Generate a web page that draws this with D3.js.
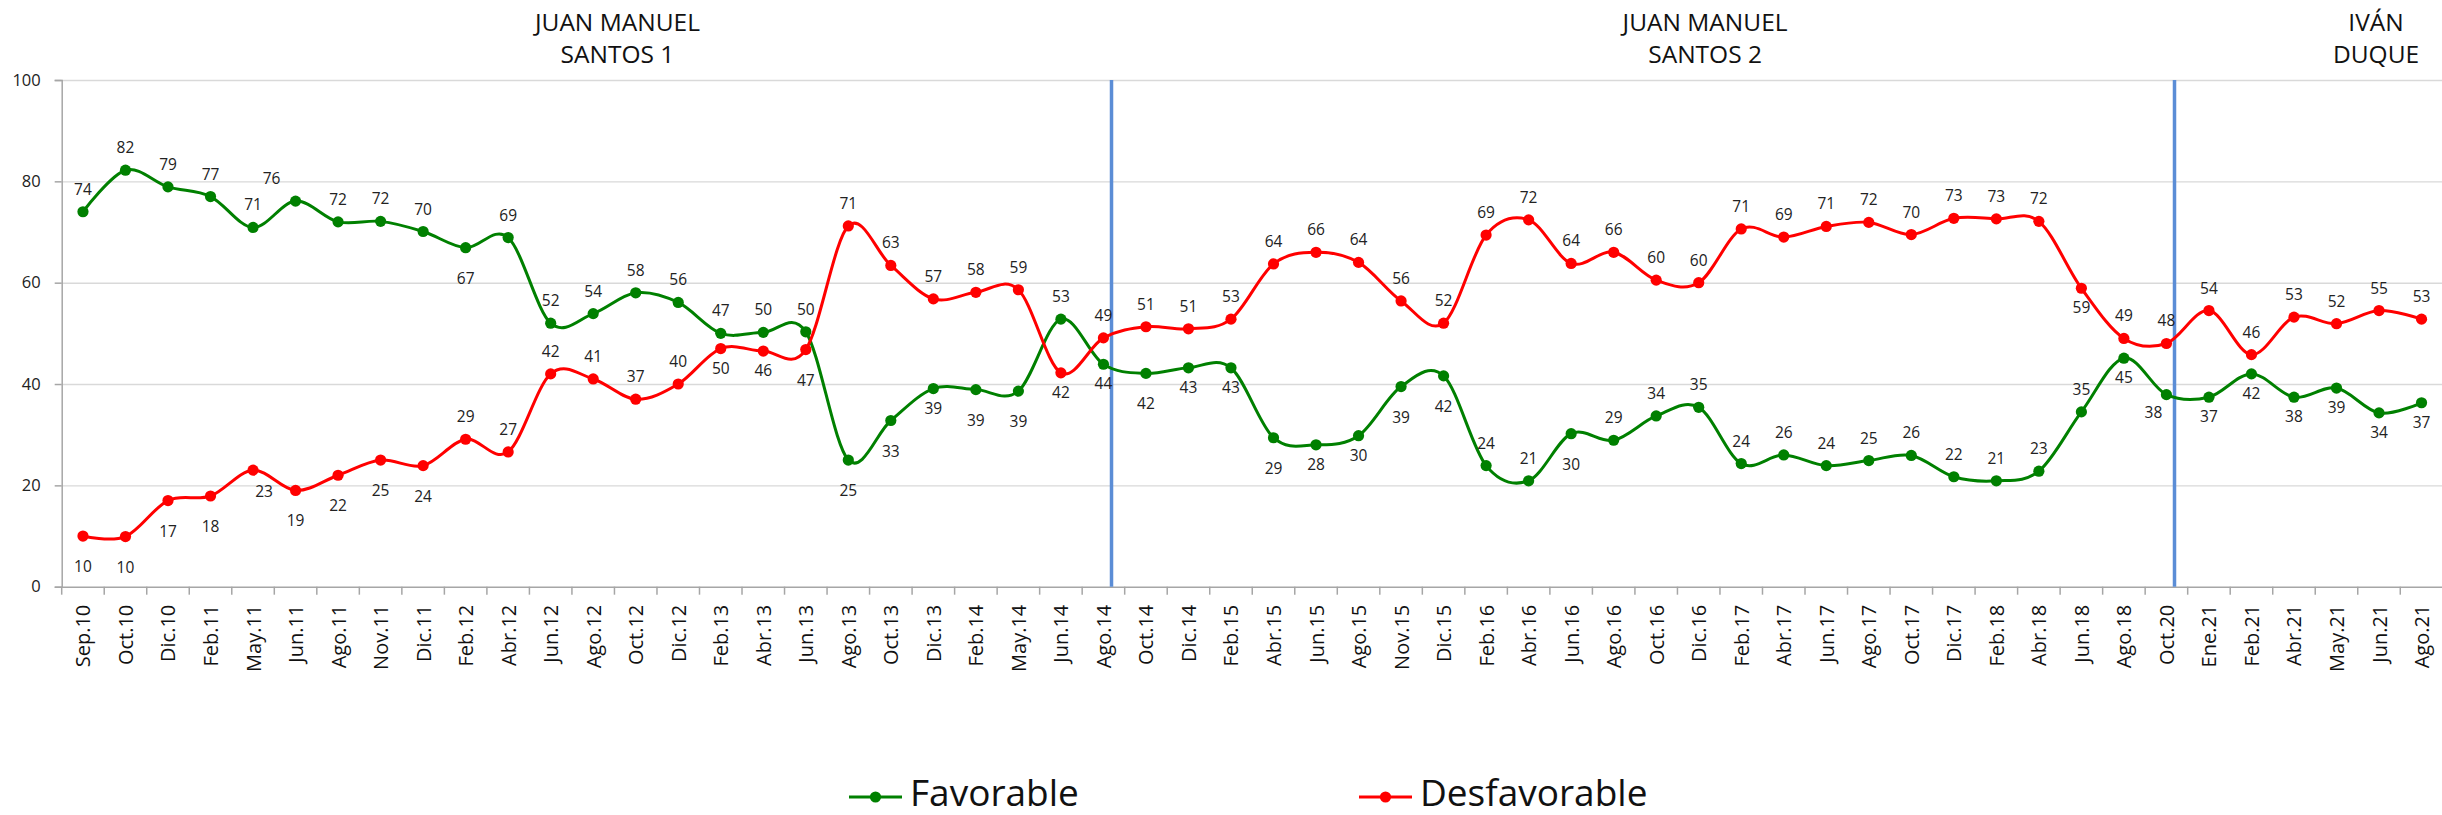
<!DOCTYPE html>
<html><head><meta charset="utf-8">
<script src="https://cdn.jsdelivr.net/npm/d3@7"></script>
<style>body{margin:0;background:#fff;} svg{display:block;}</style>
</head><body>
<svg id="chart" width="2442" height="815"></svg>
<script>
const categories = ["Sep.10","Oct.10","Dic.10","Feb.11","May.11","Jun.11","Ago.11","Nov.11","Dic.11","Feb.12","Abr.12","Jun.12","Ago.12","Oct.12","Dic.12","Feb.13","Abr.13","Jun.13","Ago.13","Oct.13","Dic.13","Feb.14","May.14","Jun.14","Ago.14","Oct.14","Dic.14","Feb.15","Abr.15","Jun.15","Ago.15","Nov.15","Dic.15","Feb.16","Abr.16","Jun.16","Ago.16","Oct.16","Dic.16","Feb.17","Abr.17","Jun.17","Ago.17","Oct.17","Dic.17","Feb.18","Abr.18","Jun.18","Ago.18","Oct.20","Ene.21","Feb.21","Abr.21","May.21","Jun.21","Ago.21"];
const favorable = [74.0,82.2,78.9,77.0,70.9,76.1,72.0,72.1,70.1,66.9,68.9,52.0,53.9,58.0,56.1,50.0,50.2,50.3,25.0,32.8,39.1,38.9,38.6,52.8,43.9,42.1,43.2,43.2,29.4,28.0,29.8,39.5,41.6,23.9,20.9,30.2,28.9,33.7,35.4,24.3,26.0,23.9,24.9,25.9,21.7,20.9,22.8,34.5,45.1,37.9,37.4,42.0,37.4,39.2,34.3,36.3];
const desfavorable = [10.0,9.9,17.0,17.9,23.0,19.0,22.0,25.0,23.9,29.1,26.6,42.0,41.0,37.0,40.0,47.0,46.5,46.8,71.2,63.4,56.8,58.1,58.6,42.2,49.1,51.3,50.9,52.8,63.7,66.0,64.0,56.4,52.0,69.4,72.4,63.8,66.0,60.5,60.0,70.6,69.0,71.1,71.9,69.5,72.7,72.6,72.1,58.9,49.0,48.0,54.5,45.8,53.2,51.9,54.5,52.8];
const favorableLabels = [74,82,79,77,71,76,72,72,70,67,69,52,54,58,56,47,50,50,25,33,39,39,39,53,44,42,43,43,29,28,30,39,42,24,21,30,29,34,35,24,26,24,25,26,22,21,23,35,45,38,37,42,38,39,34,37];
const desfavorableLabels = [10,10,17,18,23,19,22,25,24,29,27,42,41,37,40,50,46,47,71,63,57,58,59,42,49,51,51,53,64,66,64,56,52,69,72,64,66,60,60,71,69,71,72,70,73,73,72,59,49,48,54,46,53,52,55,53];
// label side: a = above, L = above-left, b = below, c = just below, l = just below-left, r = just below-right
const favorablePlacement = ("aaaaaLaaa"+"b"+"aaaaaaaa"+"bbcbb"+"a"+"cbccbccbb"+"aa"+"b"+"aaaaaaaaaaaa"+"cl"+"cccccc").split("");
const desfavorablePlacement = ("bbbb"+"r"+"bbbb"+"aaaaaa"+"cc"+"b"+"aaaaa"+"c"+"aaaaaaaaaaaaaaaaaaaaaaa"+"c"+"aaaaaaaa").split("");
const yTicks = [0,20,40,60,80,100];
const periodDividers = ["Ago.14","Oct.20"];
const periodTitles = [
  {lines:["JUAN MANUEL","SANTOS 1"], at:"Oct.12"},
  {lines:["JUAN MANUEL","SANTOS 2"], at:"Dic.16"},
  {lines:["IVÁN","DUQUE"], at:"Jun.21"}
];
const seriesNames = ["Favorable","Desfavorable"];

const svg = d3.select("#chart");
const plotLeft = 61.7, plotRight = 2442.8, plotTop = 80, plotBottom = 586.7;
const x = d3.scaleBand().domain(categories).range([plotLeft, plotRight]).padding(0);
const cx = c => x(c) + x.bandwidth()/2;
const y = d3.scaleLinear().domain([0,100]).range([plotBottom, plotTop]);

const font = "'Open Sans', sans-serif";

// gridlines
const grid = svg.append("g").attr("transform",`translate(${plotLeft},0)`)
  .call(d3.axisLeft(y).tickValues(yTicks.filter(t=>t>0)).tickSize(-(plotRight-plotLeft)).tickFormat(""));
grid.select(".domain").remove();
grid.selectAll("line").attr("stroke","#d9d9d9").attr("stroke-width",1.4);

// y axis
const ya = svg.append("g").attr("transform",`translate(${plotLeft},0)`)
  .call(d3.axisLeft(y).tickValues(yTicks).tickSize(7).tickPadding(14));
ya.select(".domain").attr("stroke","#a6a6a6").attr("stroke-width",1.5);
ya.selectAll("line").attr("stroke","#a6a6a6").attr("stroke-width",1.5);
ya.selectAll("text").attr("font-family",font).attr("font-size",16.5).attr("fill","#222");

// x axis
const xa = svg.append("g").attr("transform",`translate(0,${plotBottom})`)
  .call(d3.axisBottom(x).tickSize(0).tickPadding(0));
xa.select(".domain").attr("stroke","#a6a6a6").attr("stroke-width",1.5);
xa.selectAll(".tick text")
  .attr("font-family",font).attr("font-size",20).attr("fill","#111")
  .attr("text-anchor","end").attr("dy",null).attr("y",0).attr("x",-18)
  .attr("dominant-baseline","central")
  .attr("transform","rotate(-90)");
// boundary tick marks
const bounds = categories.map(c=>x(c)).concat([x(categories[categories.length-1])+x.bandwidth()]);
svg.append("g").selectAll("line").data(bounds).join("line")
  .attr("x1",d=>d).attr("x2",d=>d)
  .attr("y1",plotBottom).attr("y2",plotBottom+8).attr("stroke","#a6a6a6").attr("stroke-width",1.5);

// period dividers
svg.append("g").selectAll("line").data(periodDividers).join("line")
  .attr("x1",c=>cx(c)+x.bandwidth()*0.19).attr("x2",c=>cx(c)+x.bandwidth()*0.19)
  .attr("y1",y(100)).attr("y2",plotBottom)
  .attr("stroke","#5b8dd6").attr("stroke-width",3.5);

// titles
const tg = svg.append("g");
const titleShift = {"Oct.12":-0.43, "Dic.16":0.15, "Jun.21":-0.07};
periodTitles.forEach(t=>{
  const xx = cx(t.at) + x.bandwidth()*titleShift[t.at];
  t.lines.forEach((ln,i)=>{
    tg.append("text").attr("x",xx).attr("y",30.7+i*32.6).attr("text-anchor","middle")
      .attr("font-family",font).attr("font-size",24.5).attr("fill","#111").text(ln);
  });
});

const colors = {Favorable:"#008000", Desfavorable:"#ff0000"};
const line = d3.line().x((d,i)=>cx(categories[i])).y(d=>y(d)).curve(d3.curveCardinal.tension(0));
const offY = {a:-23, L:-23, b:30, c:19, l:17, r:21};
const offX = {a:0, L:-24, b:0, c:0, l:-13, r:11};

function drawSeries(vals, labels, place, color){
  const g = svg.append("g");
  g.append("path").datum(vals).attr("d",line).attr("fill","none").attr("stroke",color).attr("stroke-width",3);
  g.selectAll("circle").data(vals).join("circle")
    .attr("cx",(d,i)=>cx(categories[i])).attr("cy",d=>y(d)).attr("r",5.6).attr("fill",color);
  g.selectAll("text").data(vals).join("text")
    .attr("x",(d,i)=>cx(categories[i]) + offX[place[i]])
    .attr("y",(d,i)=>y(d) + offY[place[i]])
    .attr("text-anchor","middle").attr("dominant-baseline","central")
    .attr("font-family",font).attr("font-size",15.5).attr("fill","#222")
    .text((d,i)=>labels[i]);
}
drawSeries(favorable, favorableLabels, favorablePlacement, colors.Favorable);
drawSeries(desfavorable, desfavorableLabels, desfavorablePlacement, colors.Desfavorable);

// legend
const legendX = [849, 1359];
seriesNames.forEach((n,i)=>{
  const g = svg.append("g").attr("transform",`translate(${legendX[i]},797)`);
  g.append("line").attr("x1",0).attr("x2",53).attr("y1",0).attr("y2",0).attr("stroke",colors[n]).attr("stroke-width",3);
  g.append("circle").attr("cx",26.5).attr("cy",0).attr("r",5.6).attr("fill",colors[n]);
  g.append("text").attr("x",61).attr("y",8.5).attr("font-family",font).attr("font-size",37).attr("fill","#111").text(n);
});
</script>
</body></html>
